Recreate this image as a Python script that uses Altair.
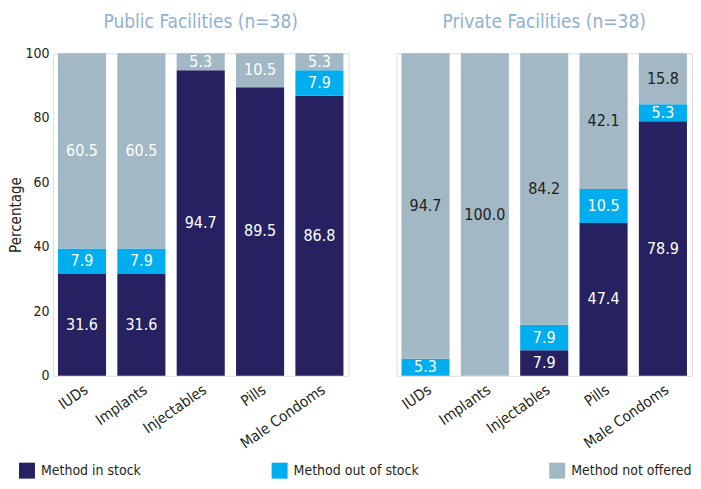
import altair as alt
import pandas as pd

methods = ["IUDs", "Implants", "Injectables", "Pills", "Male Condoms"]
statuses = ["Method in stock", "Method out of stock", "Method not offered"]
colors = ["#262262", "#00aeef", "#a2b8c5"]

public_in = [31.6, 31.6, 94.7, 89.5, 86.8]
public_out = [7.9, 7.9, 0.0, 0.0, 7.9]
public_not = [60.5, 60.5, 5.3, 10.5, 5.3]

private_in = [0.0, 0.0, 7.9, 47.4, 78.9]
private_out = [5.3, 0.0, 7.9, 10.5, 5.3]
private_not = [94.7, 100.0, 84.2, 42.1, 15.8]

FONT = "Liberation Sans Narrow, DejaVu Sans Condensed, sans-serif"

rows = []
for panel, series in [("Public", [public_in, public_out, public_not]),
                      ("Private", [private_in, private_out, private_not])]:
    for si, (status, vals) in enumerate(zip(statuses, series)):
        for m, v in zip(methods, vals):
            rows.append({"panel": panel, "method": m, "status": status,
                         "order": si, "value": v})
df = pd.DataFrame(rows)


def panel_chart(panel, title, show_axis, gray_label, title_offset):
    base = alt.Chart(df).transform_filter(
        alt.datum.panel == panel
    ).transform_stack(
        stack="value", groupby=["method"], as_=["y0", "y1"],
        sort=[alt.SortField("order", order="ascending")]
    ).transform_calculate(
        mid="(datum.y0 + datum.y1) / 2",
        lc=f"datum.status == 'Method not offered' ? '{gray_label}' : '#ffffff'"
    )
    x = alt.X("method:N", sort=methods, title=None,
              scale=alt.Scale(paddingInner=0.19, paddingOuter=0.085),
              axis=alt.Axis(labelAngle=-35, labelFontSize=15, labelFont=FONT,
                            labelColor="#231f20", domain=False, ticks=False,
                            labelPadding=6))
    if show_axis:
        yaxis = alt.Axis(title="Percentage", values=[0, 20, 40, 60, 80, 100],
                         grid=False, domain=False, ticks=False,
                         labelFontSize=14, labelFont=FONT, labelColor="#231f20",
                         titleFontSize=15, titleFont=FONT, titleColor="#231f20",
                         titleFontWeight="normal", labelPadding=4, titlePadding=3,
                         minExtent=26, maxExtent=26)
    else:
        yaxis = None
    bars = base.mark_bar().encode(
        x=x,
        y=alt.Y("y0:Q", scale=alt.Scale(domain=[0, 100], nice=False), axis=yaxis),
        y2="y1:Q",
        color=alt.Color("status:N", sort=statuses,
                        scale=alt.Scale(domain=statuses, range=colors),
                        legend=alt.Legend(title=None, orient="none",
                                          direction="horizontal", columns=3,
                                          legendX=-34, legendY=410,
                                          symbolType="square", symbolSize=256,
                                          symbolOpacity=1, symbolStrokeWidth=0,
                                          labelFontSize=14, labelFont=FONT,
                                          labelColor="#231f20", labelOffset=6,
                                          columnPadding=130, labelLimit=200,
                                          gridAlign="each")),
    )
    texts = base.transform_filter(alt.datum.value > 0).mark_text(
        fontSize=16, font=FONT, baseline="middle"
    ).encode(
        x=alt.X("method:N", sort=methods),
        y=alt.Y("mid:Q"),
        text=alt.Text("value:Q", format=".1f"),
        color=alt.Color("lc:N", scale=None),
    )
    return alt.layer(bars, texts).properties(
        width=296, height=323,
        title=alt.TitleParams(title, fontSize=19, font=FONT, color="#8fb1d3",
                              fontWeight="normal", offset=title_offset),
    )


left = panel_chart("Public", "Public Facilities (n=38)", True, "#ffffff", 14)
right = panel_chart("Private", "Private Facilities (n=38)", False, "#231f20", 21)

chart = alt.hconcat(left, right, spacing=46).resolve_scale(
    color="shared"
).configure_view(strokeWidth=0, stroke="transparent").configure(
    padding={"left": 0, "top": 4, "right": 0, "bottom": 0}
)

chart.save("out.html", embed_options={"renderer": "svg", "actions": False})
